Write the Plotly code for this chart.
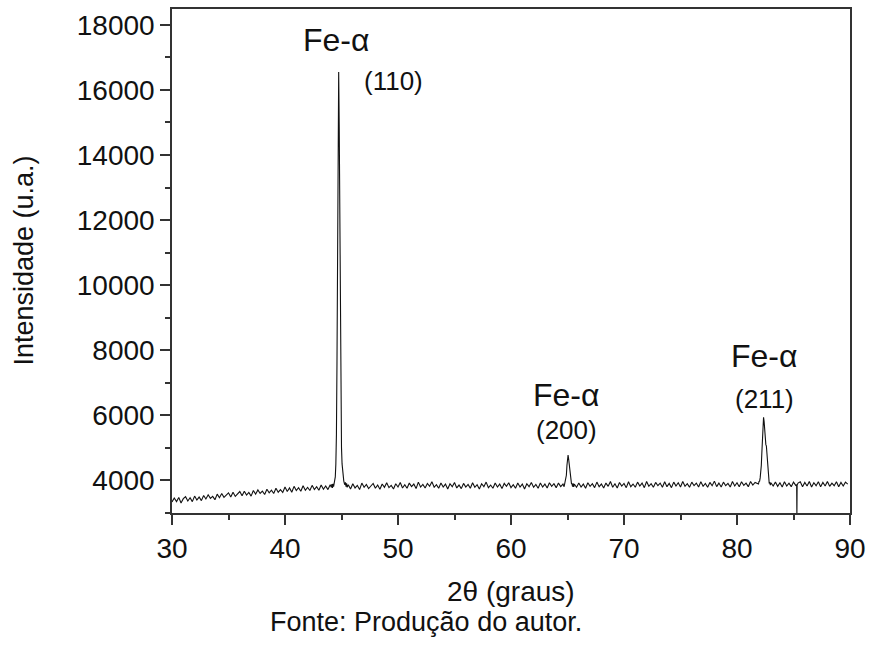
import plotly.graph_objects as go

# ---- data ----
theta_bg1 = [30.0, 30.2, 30.4, 30.6, 30.8, 31.0, 31.2, 31.4, 31.6, 31.8, 32.0, 32.2, 32.4, 32.6, 32.8,
             33.0, 33.2, 33.4, 33.6, 33.8, 34.0, 34.2, 34.4, 34.6, 34.8, 35.0, 35.2, 35.4, 35.6, 35.8,
             36.0, 36.2, 36.4, 36.6, 36.8, 37.0, 37.2, 37.4, 37.6, 37.8, 38.0, 38.2, 38.4, 38.6, 38.8,
             39.0, 39.2, 39.4, 39.6, 39.8, 40.0, 40.2, 40.4, 40.6, 40.8, 41.0, 41.2, 41.4, 41.6, 41.8,
             42.0, 42.2, 42.4, 42.6, 42.8, 43.0, 43.2, 43.4, 43.6, 43.8, 44.0]
int_bg1 = [3330, 3450, 3340, 3470, 3300, 3430, 3490, 3360, 3460, 3340,
           3510, 3390, 3480, 3370, 3530, 3420, 3550, 3440, 3500, 3400,
           3570, 3460, 3590, 3470, 3540, 3610, 3480, 3630, 3500, 3590,
           3650, 3520, 3660, 3540, 3620, 3510, 3680, 3570, 3700, 3590,
           3660, 3560, 3720, 3610, 3690, 3590, 3750, 3630, 3710, 3620,
           3790, 3650, 3760, 3630, 3810, 3680, 3770, 3660, 3830, 3690,
           3780, 3680, 3840, 3710, 3800, 3690, 3850, 3720, 3820, 3710,
           3860]

theta_p110 = [44.10, 44.15, 44.20, 44.25, 44.30, 44.35, 44.40, 44.45, 44.50, 44.55, 44.60, 44.65, 44.70,
              44.75, 44.80, 44.85, 44.90, 44.95, 45.00, 45.05, 45.10, 45.15, 45.20, 45.25, 45.30, 45.35,
              45.40, 45.45, 45.50]
int_p110 = [3780, 3880, 3760, 3890, 3800, 3900, 3960, 4100, 4500, 5400, 7600, 11500, 15200,
            16550, 14800, 11200, 8000, 6000, 5000, 4500, 4250, 4100, 3980, 3900, 3860, 3930,
            3800, 3900, 3780]

theta_bg2 = [45.6, 45.8, 46.0, 46.2, 46.4, 46.6, 46.8, 47.0, 47.2, 47.4, 47.6, 47.8, 48.0, 48.2, 48.4,
             48.6, 48.8, 49.0, 49.2, 49.4, 49.6, 49.8, 50.0, 50.2, 50.4, 50.6, 50.8, 51.0, 51.2, 51.4,
             51.6, 51.8, 52.0, 52.2, 52.4, 52.6, 52.8, 53.0, 53.2, 53.4, 53.6, 53.8, 54.0, 54.2, 54.4,
             54.6, 54.8, 55.0, 55.2, 55.4, 55.6, 55.8, 56.0, 56.2, 56.4, 56.6, 56.8, 57.0, 57.2, 57.4,
             57.6, 57.8, 58.0, 58.2, 58.4, 58.6, 58.8, 59.0, 59.2, 59.4, 59.6, 59.8, 60.0, 60.2, 60.4,
             60.6, 60.8, 61.0, 61.2, 61.4, 61.6, 61.8, 62.0, 62.2, 62.4, 62.6, 62.8, 63.0, 63.2, 63.4,
             63.6, 63.8, 64.0, 64.2, 64.4, 64.6]
int_bg2 = [3860, 3730, 3890, 3760, 3840, 3710, 3910, 3780, 3870, 3740,
           3820, 3900, 3750, 3850, 3720, 3880, 3780, 3920, 3770, 3840,
           3730, 3890, 3790, 3930, 3760, 3860, 3750, 3910, 3800, 3880,
           3740, 3940, 3790, 3870, 3760, 3900, 3810, 3950, 3780, 3860,
           3750, 3910, 3790, 3880, 3730, 3890, 3800, 3930, 3760, 3850,
           3740, 3900, 3790, 3870, 3750, 3920, 3780, 3860, 3730, 3890,
           3800, 3940, 3770, 3850, 3750, 3910, 3790, 3880, 3740, 3900,
           3810, 3920, 3770, 3860, 3750, 3910, 3790, 3880, 3730, 3890,
           3800, 3930, 3780, 3870, 3750, 3910, 3790, 3880, 3760, 3920,
           3810, 3890, 3770, 3910, 3800, 3880]

theta_p200 = [64.70, 64.75, 64.80, 64.85, 64.90, 64.95, 65.00, 65.05, 65.10, 65.15, 65.20, 65.25,
              65.30, 65.35, 65.40, 65.45, 65.50, 65.55, 65.60]
int_p200 = [3800, 3900, 3880, 3990, 4150, 4450, 4700, 4770, 4650, 4450, 4250, 4100,
            3980, 3900, 3880, 3800, 3900, 3790, 3880]

theta_bg3 = [65.8, 66.0, 66.2, 66.4, 66.6, 66.8, 67.0, 67.2, 67.4, 67.6, 67.8, 68.0, 68.2, 68.4, 68.6,
             68.8, 69.0, 69.2, 69.4, 69.6, 69.8, 70.0, 70.2, 70.4, 70.6, 70.8, 71.0, 71.2, 71.4, 71.6,
             71.8, 72.0, 72.2, 72.4, 72.6, 72.8, 73.0, 73.2, 73.4, 73.6, 73.8, 74.0, 74.2, 74.4, 74.6,
             74.8, 75.0, 75.2, 75.4, 75.6, 75.8, 76.0, 76.2, 76.4, 76.6, 76.8, 77.0, 77.2, 77.4, 77.6,
             77.8, 78.0, 78.2, 78.4, 78.6, 78.8, 79.0, 79.2, 79.4, 79.6, 79.8, 80.0, 80.2, 80.4, 80.6,
             80.8, 81.0, 81.2, 81.4, 81.6, 81.8]
int_bg3 = [3780, 3910, 3790, 3880, 3750, 3920, 3810, 3890, 3770, 3940,
           3800, 3880, 3760, 3910, 3810, 3960, 3780, 3890, 3760, 3930,
           3820, 3900, 3770, 3950, 3800, 3880, 3780, 3940, 3820, 3910,
           3770, 3960, 3810, 3890, 3780, 3930, 3830, 3910, 3780, 3950,
           3800, 3900, 3770, 3940, 3820, 3920, 3790, 3960, 3810, 3890,
           3780, 3940, 3830, 3910, 3790, 3950, 3810, 3900, 3780, 3930,
           3830, 3970, 3800, 3910, 3790, 3940, 3830, 3900, 3790, 3960,
           3820, 3920, 3800, 3950, 3840, 3910, 3800, 3960, 3850, 3930,
           3900]

theta_p211 = [81.90, 81.95, 82.00, 82.05, 82.10, 82.15, 82.20, 82.25, 82.30, 82.35, 82.40, 82.45,
              82.50, 82.55, 82.60, 82.65, 82.70, 82.75, 82.80, 82.85, 82.90, 82.95, 83.00]
int_p211 = [3880, 3960, 3970, 4070, 4200, 4450, 4850, 5350, 5750, 5930, 5800, 5450,
            5150, 5100, 5050, 4750, 4400, 4150, 4000, 3900, 3940, 3850, 3920]

theta_bg4 = [83.2, 83.4, 83.6, 83.8, 84.0, 84.2, 84.4, 84.6, 84.8, 85.0, 85.2, 85.28, 85.3, 85.32, 85.4,
             85.6, 85.8, 86.0, 86.2, 86.4, 86.6, 86.8, 87.0, 87.2, 87.4, 87.6, 87.8, 88.0, 88.2, 88.4,
             88.6, 88.8, 89.0, 89.2, 89.4, 89.6, 89.8]
int_bg4 = [3820, 3940, 3810, 3920, 3790, 3950, 3820, 3910, 3800, 3940, 3840,
           3860, 2900, 3850,
           3910, 3950, 3800, 3930, 3820, 3960, 3790, 3920, 3830, 3950,
           3800, 3930, 3820, 3960, 3810, 3910, 3830, 3950, 3800, 3930,
           3820, 3940, 3880]

two_theta = theta_bg1 + theta_p110 + theta_bg2 + theta_p200 + theta_bg3 + theta_p211 + theta_bg4
intensity = int_bg1 + int_p110 + int_bg2 + int_p200 + int_bg3 + int_p211 + int_bg4

x_ticks = [30, 40, 50, 60, 70, 80, 90]
y_ticks = [4000, 6000, 8000, 10000, 12000, 14000, 16000, 18000]

peak_phase = ["Fe-α", "Fe-α", "Fe-α"]
peak_hkl = ["(110)", "(200)", "(211)"]
phase_pos = [(44.56, 17540), (64.9, 6610), (82.4, 7830)]
hkl_pos = [(49.6, 16290), (64.9, 5530), (82.4, 6510)]

FONT = "Liberation Sans, Arial, sans-serif"

fig = go.Figure()
fig.add_trace(go.Scatter(x=two_theta, y=intensity, mode="lines",
                         line=dict(color="#111111", width=1.1), showlegend=False))

for label, (px, py) in zip(peak_phase, phase_pos):
    fig.add_annotation(x=px, y=py, text=label, showarrow=False,
                       font=dict(size=32, color="#111111", family=FONT))
for label, (px, py) in zip(peak_hkl, hkl_pos):
    fig.add_annotation(x=px, y=py, text=label, showarrow=False,
                       font=dict(size=26, color="#111111", family=FONT))

fig.add_annotation(xref="paper", yref="paper", x=0.5, y=-0.156, text="2θ (graus)",
                   showarrow=False, yanchor="middle",
                   font=dict(size=28, color="#111111", family=FONT))
fig.add_annotation(xref="paper", yref="paper", x=0.375, y=-0.217, text="Fonte: Produção do autor.",
                   showarrow=False, yanchor="middle",
                   font=dict(size=27, color="#111111", family=FONT))
fig.add_annotation(xref="paper", yref="paper", x=-0.219, y=0.5, text="Intensidade (u.a.)",
                   showarrow=False, textangle=-90, xanchor="center", yanchor="middle",
                   font=dict(size=27, color="#111111", family=FONT))

axis_common = dict(showgrid=False, zeroline=False, showline=True, linecolor="#333333", linewidth=1.5,
                   mirror=True, ticks="outside", ticklen=10, tickwidth=1.5, tickcolor="#333333",
                   tickfont=dict(size=28, color="#111111", family=FONT))

fig.update_xaxes(range=[30, 90], tickvals=x_ticks, ticktext=[str(v) for v in x_ticks],
                 minor=dict(ticks="outside", ticklen=5, tickwidth=1.5, tickcolor="#333333", dtick=5),
                 **axis_common)
fig.update_yaxes(range=[2990, 18490], tickvals=y_ticks, ticktext=[str(v) for v in y_ticks],
                 minor=dict(ticks="outside", ticklen=5, tickwidth=1.5, tickcolor="#333333", dtick=1000),
                 **axis_common)

fig.update_layout(width=873, height=646, margin=dict(l=172, r=21, t=7, b=133),
                  paper_bgcolor="white", plot_bgcolor="white",
                  font=dict(family=FONT, color="#111111"))

fig.write_html("out.html", config={"displayModeBar": False},
               post_script="document.body.style.margin='0';document.body.style.overflow='hidden';")
